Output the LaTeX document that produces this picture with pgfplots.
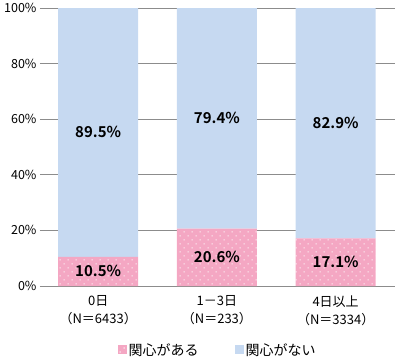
\documentclass[border=0pt]{standalone}
\usepackage{pgfplots}
\pgfplotsset{compat=1.18}
\usepackage{fontspec}
\setmainfont{Noto Sans CJK JP}[BoldFont={Noto Sans CJK JP Bold}]
\usetikzlibrary{patterns.meta}
\definecolor{cpink}{HTML}{F4A7C3}
\definecolor{cblue}{HTML}{C6D9F1}
\definecolor{cgrid}{HTML}{8C8C8C}
\begin{document}
\begin{tikzpicture}
\path[use as bounding box] (-40pt,-74pt) rectangle (355pt,8pt+278pt);
\begin{axis}[
  anchor=south west, at={(0,0)},
  width=355pt, height=278pt, scale only axis,
  ybar stacked, bar width=80pt,
  xmin=-0.49, xmax=2.5, ymin=0, ymax=100,
  xtick={0,1,2},
  xticklabels={{0日\\（N＝6433）},{1－3日\\（N＝233）},{4日以上\\（N＝3334）}},
  xticklabel style={align=center, font=\fontsize{13}{18}\selectfont, text=black, yshift=-6pt},
  ytick={0,20,40,60,80,100},
  yticklabel={\pgfmathprintnumber{\tick}\%},
  yticklabel style={font=\fontsize{12.5}{14}\selectfont},
  /pgf/number format/assume math mode=true,
  major tick length=0pt,
  axis line style={draw=none},
  ymajorgrids, grid style={cgrid, line width=0.7pt},
  legend style={at={(0.5,-0.23)}, anchor=center, draw=none, legend columns=2,
    font=\fontsize{14}{16}\selectfont, /tikz/every even column/.append style={column sep=34pt}},
  legend image code/.code={\fill[#1] (0pt,-4pt) rectangle (9pt,5pt);},
]
\addplot[fill=cpink, draw=none, postaction={pattern={Dots[distance=5.66pt,angle=45,radius=0.75pt]}, pattern color=white}] coordinates {(0,10.5) (1,20.6) (2,17.1)};
\addplot[fill=cblue, draw=none] coordinates {(0,89.5) (1,79.4) (2,82.9)};
\legend{関心がある,関心がない}
\coordinate (a1) at (axis cs:0,5.25);
\coordinate (a2) at (axis cs:1,10.3);
\coordinate (a3) at (axis cs:2,8.55);
\coordinate (b1) at (axis cs:0,55.25);
\coordinate (b2) at (axis cs:1,60.3);
\coordinate (b3) at (axis cs:2,58.55);
\end{axis}
\begin{scope}[every node/.style={font=\bfseries\fontsize{15}{16}\selectfont, text=black}]
\node at (a1) {10.5\%};
\node at (a2) {20.6\%};
\node at (a3) {17.1\%};
\node at (b1) {89.5\%};
\node at (b2) {79.4\%};
\node at (b3) {82.9\%};
\end{scope}
\end{tikzpicture}
\end{document}
